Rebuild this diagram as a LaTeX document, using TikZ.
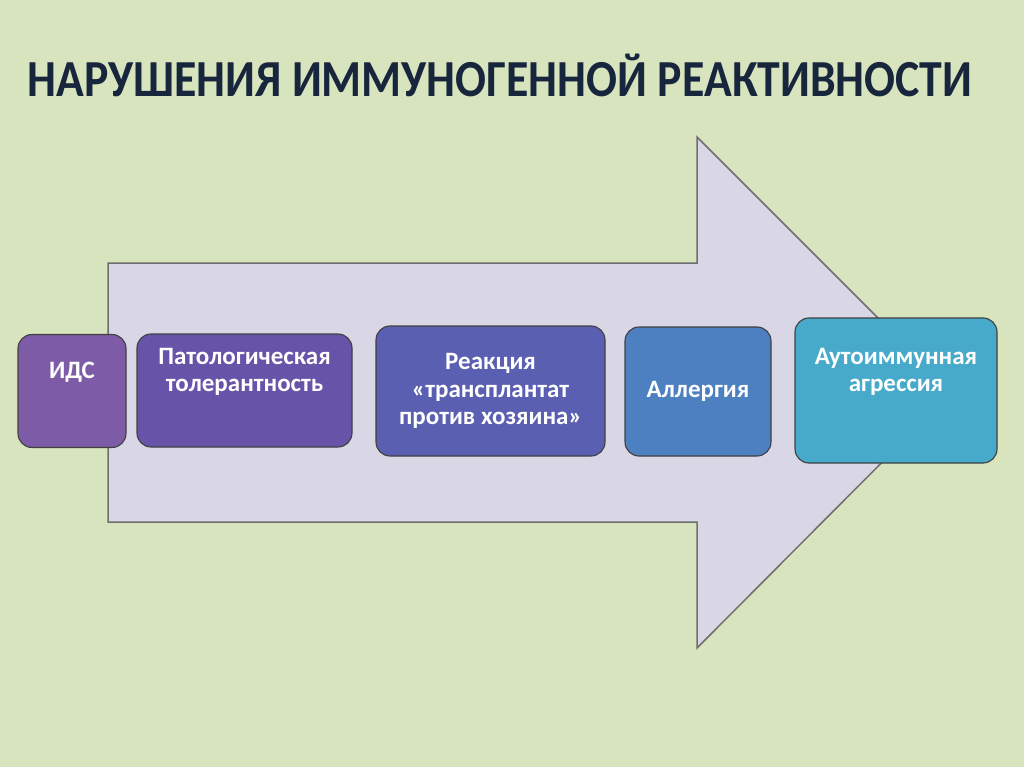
\documentclass[tikz,border=0pt]{standalone}
\usepackage{fontspec}
\setmainfont{Carlito}
\newfontfamily\headfont[FakeStretch=0.88]{Carlito}
\usetikzlibrary{positioning}
\definecolor{slBack}{HTML}{D7E4BD}
\definecolor{slArrow}{HTML}{D9D6E6}
\definecolor{slEdge}{HTML}{6E6E6E}
\definecolor{slInk}{HTML}{17253D}
\definecolor{bxIds}{HTML}{7D5BA6}
\definecolor{bxPat}{HTML}{6753A8}
\definecolor{bxGvh}{HTML}{5A5FB2}
\definecolor{bxAll}{HTML}{4D80C0}
\definecolor{bxAut}{HTML}{47AACA}

\begin{document}
\begin{tikzpicture}[x=1pt, y=-1pt, font=\bfseries,
  stage/.style={draw=black!75, line width=1.1pt, rounded corners=14pt, inner sep=0pt,
    text=white, align=center, font=\fontsize{25}{27.5}\selectfont\bfseries},
  stagetxt/.style={text=white, align=center, inner sep=0pt, font=\fontsize{25}{27.5}\selectfont\bfseries},
  title/.style={text=slInk, font=\headfont\fontsize{52}{58}\selectfont\bfseries},
]
% ---- background ----
\useasboundingbox (0,0) rectangle (1024,767);
\fill[slBack] (0,0) rectangle (1024,767);
\node[title] (head) at (500,75) {НАРУШЕНИЯ ИММУНОГЕННОЙ РЕАКТИВНОСТИ};
% ---- big arrow ----
\draw[fill=slArrow, draw=slEdge, line width=1.5pt, line join=miter]
  (108,263) -- (697,263) -- (697,137) -- (952,392) -- (697,648) -- (697,522) -- (108,522) -- cycle;
% ---- stages ----
\node[stage, fill=bxIds, minimum width=108pt, minimum height=113pt] (ids) at (72,391) {};
\node[stage, fill=bxPat, minimum width=215pt, minimum height=113pt] (pat) at (244.5,390.5) {};
\node[stage, fill=bxGvh, minimum width=229pt, minimum height=130pt] (gvh) at (490.5,391)
  {Реакция\\«трансплантат\\против хозяина»};
\node[stage, fill=bxAll, minimum width=146pt, minimum height=129pt] (allerg) at (698,391.5) {Аллергия};
\node[stage, fill=bxAut, minimum width=202pt, minimum height=145pt] (auto) at (896,390.5) {};
% ---- top-aligned labels ----
\node[stagetxt] (idsL) at (72,372) {ИДС};
\node[stagetxt] (patL) at (244.5,372) {Патологическая\\толерантность};
\node[stagetxt] (autoL) at (896,372) {Аутоиммунная\\агрессия};
\end{tikzpicture}
\end{document}
